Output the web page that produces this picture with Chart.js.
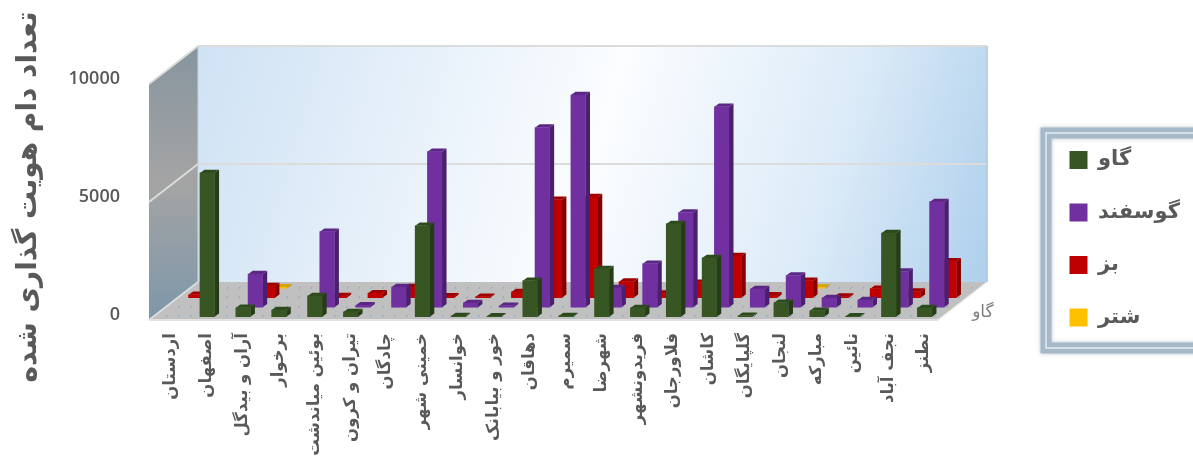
<!DOCTYPE html>
<html lang="fa">
<head>
<meta charset="utf-8">
<title>تعداد دام هویت گذاری شده</title>
<script src="https://cdn.jsdelivr.net/npm/chart.js@4/dist/chart.umd.min.js"></script>
<style>
  html, body { margin: 0; padding: 0; background: #fff; overflow: hidden; }
  canvas { display: block; }
</style>
</head>
<body>
<canvas id="damChart" width="1193" height="457"></canvas>
<script>
// Chart data
const categories = ['اردستان', 'اصفهان', 'آران و بیدگل', 'برخوار', 'بوئین میاندشت', 'تیران و کرون', 'چادگان', 'خمینی شهر', 'خوانسار', 'خور و بیابانک', 'دهاقان', 'سمیرم', 'شهرضا', 'فریدونشهر', 'فلاورجان', 'کاشان', 'گلپایگان', 'لنجان', 'مبارکه', 'نائین', 'نجف آباد', 'نطنز'];
const seriesNames = ['گاو', 'گوسفند', 'بز', 'شتر'];
const gavValues = [null, 6090, 380, 280, 880, 200, null, 3850, 30, 20, 1525, 30, 2020, 370, 3930, 2490, 40, 590, 250, 20, 3540, 370];
const gusfandValues = [null, null, 1400, null, 3200, 80, 850, 6590, 180, 60, 7610, 8990, 810, 1840, 4010, 8490, 770, 1340, 390, 300, 1510, 4460];
const bozValues = [120, null, 490, null, 70, 190, 450, 60, 40, 240, 4150, 4260, 680, 180, 630, 1770, 100, 720, 50, 380, 260, 1540];
const shotorValues = [null, null, 40, null, null, null, null, null, null, null, null, null, null, null, null, null, null, 30, null, null, null, null];

// Colours per series: face, side, top
const faceColors = ['#375623', '#7030a0', '#c00000', '#ffc000'];
const sideColors = ['#263c18', '#4a1f6e', '#850000', '#b38600'];
const topColors = ['#2d4a1c', '#5a2784', '#a00000', '#d9a300'];
const textColor = '#595959';

// Fake 3D: every series sits on its own row going back into the floor
const rowDx = 12.25, rowDy = -9.5;
const startDx = 0.4, startDy = 1.7;
const barDepthX = 4.6, barDepthY = -3.3;
const floorDepthX = 49, floorDepthY = -38;
var dataValues = [gavValues, gusfandValues, bozValues, shotorValues];

function poly(ctx, pts, fill) {
    ctx.beginPath();
    ctx.moveTo(pts[0][0], pts[0][1]);
    for (let i = 1; i < pts.length; i++) ctx.lineTo(pts[i][0], pts[i][1]);
    ctx.closePath();
    ctx.fillStyle = fill;
    ctx.fill();
}

function line(ctx, x1, y1, x2, y2, color, width) {
    ctx.beginPath();
    ctx.moveTo(x1, y1);
    ctx.lineTo(x2, y2);
    ctx.strokeStyle = color;
    ctx.lineWidth = width;
    ctx.stroke();
}

// Walls, floor and grid lines
const boxPlugin = {
    id: 'box',
    beforeDatasetsDraw(chart) {
        const ctx = chart.ctx;
        const yScale = chart.scales.y;
        const area = chart.chartArea;
        const left = area.left - 4, right = area.right - 4, bottom = area.bottom + 5;
        const top = area.top + 5;
        const dx = floorDepthX, dy = floorDepthY;

        // back wall
        const wall = ctx.createLinearGradient(left + dx, top + dy, right + dx, bottom + dy);
        wall.addColorStop(0, '#cfe2f4');
        wall.addColorStop(0.5, '#fbfdff');
        wall.addColorStop(0.78, '#dcebf8');
        wall.addColorStop(1, '#aecfec');
        poly(ctx, [[left + dx, top + dy], [right + dx, top + dy], [right + dx, bottom + dy], [left + dx, bottom + dy]], wall);

        // side wall
        const side = ctx.createLinearGradient(0, top + dy, 0, bottom);
        side.addColorStop(0, '#87959f');
        side.addColorStop(0.5, '#a4a4a4');
        side.addColorStop(1, '#7d97a9');
        poly(ctx, [[left, top], [left + dx, top + dy], [left + dx, bottom + dy], [left, bottom]], side);

        // floor with its small dots
        poly(ctx, [[left, bottom], [right, bottom], [right + dx, bottom + dy], [left + dx, bottom + dy]], '#c0c0c0');
        for (let r = 0; r < 4; r++) {
            const t = (r + 0.4) / 4;
            const rx = left + dx * t, ry = bottom + dy * t;
            for (let c = 1; c < 66; c++) {
                line(ctx, rx + c * 12, ry + 0.8, rx + c * 12 + 1.6, ry - 0.6, '#6f9cc4', 1);
            }
        }

        // grid lines
        yScale.ticks.forEach(function(tick) {
            const y = yScale.getPixelForValue(tick.value) + 5;
            line(ctx, left, y, left + dx, y + dy, '#dcdcdc', 2);
            if (tick.value > 0) line(ctx, left + dx, y + dy, right + dx, y + dy, '#dcdcdc', 2);
        });
        line(ctx, left, bottom, right, bottom, '#e2e2e2', 2);
        line(ctx, right, bottom, right + dx, bottom + dy, '#eeeeee', 1.5);
        line(ctx, left + dx, top + dy, left + dx, bottom + dy, '#c6d3de', 1);
        line(ctx, right + dx, top + dy, right + dx, bottom + dy, '#a9bccd', 1);

        // name of the first series on the depth axis
        ctx.fillStyle = '#7f7f7f';
        ctx.font = '17px "DejaVu Sans"';
        ctx.textAlign = 'left';
        ctx.textBaseline = 'middle';
        ctx.fillText(seriesNames[0], right + 34, bottom - 7);
    }
};

// Moves every series back to its row and adds the side and top of each bar
const bars3dPlugin = {
    id: 'bars3d',
    beforeDatasetDraw(chart, args) {
        const ctx = chart.ctx;
        const i = args.index;
        ctx.save();
        ctx.translate(startDx + rowDx * i, startDy + rowDy * i);
        args.meta.data.forEach(function(bar, j) {
            if (dataValues[i][j] === null) return;
            const l = bar.x - bar.width / 2, r = bar.x + bar.width / 2;
            const x = barDepthX, y = barDepthY;
            poly(ctx, [[r, bar.y], [r + x, bar.y + y], [r + x, bar.base + y], [r, bar.base]], sideColors[i]);
            poly(ctx, [[l, bar.y], [l + x, bar.y + y], [r + x, bar.y + y], [r, bar.y]], topColors[i]);
        });
    },
    afterDatasetDraw(chart) {
        chart.ctx.restore();
    }
};

// Frame of the legend, and the legend moved into it
const legendFramePlugin = {
    id: 'legendFrame',
    beforeDraw(chart) {
        const ctx = chart.ctx;
        const legend = chart.legend;
        const w = legend.width, h = legend.height;
        legend.left = 1038;
        legend.right = legend.left + w;
        legend.top = 118;
        legend.bottom = legend.top + h;
        ctx.save();
        ctx.shadowColor = 'rgba(120,140,160,0.5)';
        ctx.shadowBlur = 4;
        ctx.strokeStyle = '#a5b9c9';
        ctx.lineWidth = 11;
        ctx.strokeRect(1046, 133, 170, 215);
        ctx.restore();
        ctx.strokeStyle = '#e4ebf1';
        ctx.lineWidth = 1.5;
        ctx.strokeRect(1046, 133, 170, 215);
    }
};

var ctxDam = document.getElementById('damChart').getContext('2d');
var damChart = new Chart(ctxDam, {
    type: 'bar',
    data: {
        labels: categories,
        datasets: seriesNames.map(function(name, i) {
            return {
                label: name,
                data: dataValues[i],
                backgroundColor: faceColors[i],
                borderWidth: 0,
                barThickness: 14.5,
                grouped: false,
                clip: false
            };
        })
    },
    options: {
        responsive: false,
        animation: false,
        layout: { padding: { top: 79, right: 99 } },
        plugins: {
            tooltip: { enabled: false },
            legend: {
                position: 'right',
                align: 'start',
                labels: {
                    boxWidth: 18,
                    boxHeight: 18,
                    padding: 31.5,
                    color: textColor,
                    font: { family: '"DejaVu Sans"', size: 21, weight: 'bold' }
                }
            }
        },
        scales: {
            x: {
                grid: { display: false },
                border: { display: false },
                ticks: {
                    autoSkip: false,
                    minRotation: 90,
                    maxRotation: 90,
                    padding: 10,
                    color: textColor,
                    font: { family: '"DejaVu Sans"', size: 16.5, weight: 'bold' }
                },
                afterFit: function(scale) {
                    scale.height = 142;
                    scale.paddingLeft = 0;
                    scale.paddingRight = 0;
                }
            },
            y: {
                min: 0,
                max: 10000,
                grid: { display: false, drawTicks: false },
                border: { display: false },
                title: {
                    display: true,
                    text: 'تعداد دام هویت گذاری شده',
                    color: textColor,
                    font: { family: '"DejaVu Sans"', size: 28, weight: 'bold' },
                    padding: { top: 12, bottom: 0 }
                },
                ticks: {
                    stepSize: 5000,
                    padding: 33,
                    color: textColor,
                    font: { family: '"Open Sans"', size: 18, weight: '600' },
                    callback: function(value) { return String(value); }
                },
                afterFit: function(scale) {
                    scale.width = 153;
                }
            }
        }
    },
    plugins: [legendFramePlugin, boxPlugin, bars3dPlugin]
});
</script>
</body>
</html>
